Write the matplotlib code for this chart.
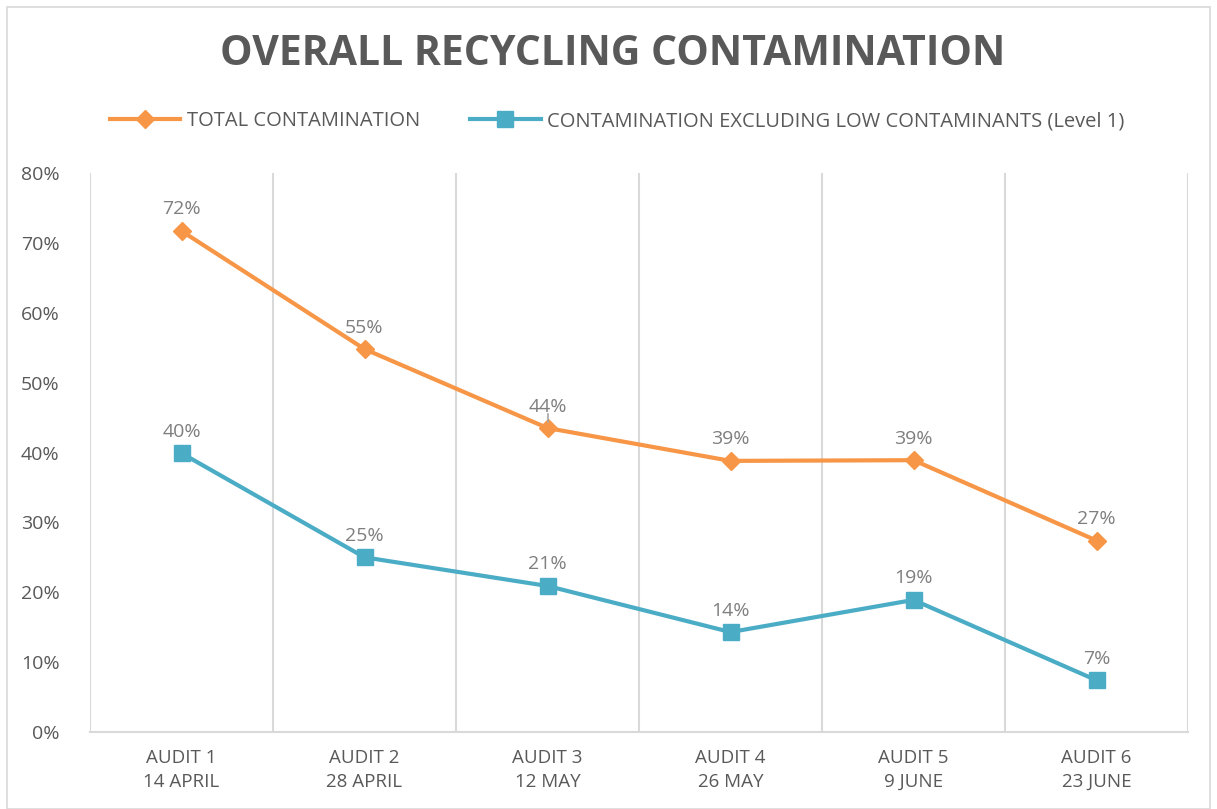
import matplotlib.pyplot as plt
from matplotlib.patches import Rectangle

plt.rcParams['font.family'] = ['Open Sans', 'DejaVu Sans']

# data
audits = ['AUDIT 1\n14 APRIL', 'AUDIT 2\n28 APRIL', 'AUDIT 3\n12 MAY',
          'AUDIT 4\n26 MAY', 'AUDIT 5\n9 JUNE', 'AUDIT 6\n23 JUNE']
total = [71.7, 54.8, 43.5, 38.8, 38.9, 27.4]
excl_low = [39.9, 25.0, 20.9, 14.3, 18.9, 7.4]
total_labels = ['72%', '55%', '44%', '39%', '39%', '27%']
excl_labels = ['40%', '25%', '21%', '14%', '19%', '7%']

orange = '#F79646'
blue = '#4BACC6'
grey_txt = '#595959'
lbl_txt = '#7F7F7F'
grid_c = '#D9D9D9'

fig = plt.figure(figsize=(12.17, 8.09), dpi=100)
ax = fig.add_axes([90 / 1217, 77 / 809, 1098 / 1217, 559 / 809])

x = list(range(len(audits)))
ax.plot(x, total, color=orange, lw=3, marker='D', ms=9,
        label='TOTAL CONTAMINATION', zorder=3)
ax.plot(x, excl_low, color=blue, lw=3, marker='s', ms=11,
        label='CONTAMINATION EXCLUDING LOW CONTAMINANTS (Level 1)', zorder=3)

for i in x:
    ax.annotate(total_labels[i], (i, total[i]), xytext=(0, 9),
                textcoords='offset points', ha='center', va='bottom',
                fontsize=14, color=lbl_txt)
    ax.annotate(excl_labels[i], (i, excl_low[i]), xytext=(0, 9),
                textcoords='offset points', ha='center', va='bottom',
                fontsize=14, color=lbl_txt)
# small leader line on audit 3
ax.plot([2, 2], [total[2] + 0.8, total[2] + 2.0], color='#A6A6A6', lw=1.2, zorder=4)

ax.set_xlim(-0.5, 5.5)
ax.set_ylim(0, 80)
ax.set_yticks(range(0, 81, 10))
ax.set_yticklabels([f'{v}%' for v in range(0, 81, 10)], fontsize=14, color=grey_txt)
ax.set_xticks(x)
ax.set_xticklabels(audits, fontsize=13.5, color=grey_txt, linespacing=1.45)
ax.tick_params(axis='x', length=0, pad=12)
ax.tick_params(axis='y', length=0, pad=22)

for b in [i - 0.5 for i in range(len(audits) + 1)]:
    ax.axvline(b, color=grid_c, lw=1.5, zorder=1)

for s in ['top', 'right', 'left']:
    ax.spines[s].set_visible(False)
ax.spines['bottom'].set_color(grid_c)
ax.spines['bottom'].set_linewidth(1.5)

fig.text(0.503, 0.933, 'OVERALL RECYCLING CONTAMINATION', ha='center', va='center',
         fontsize=29.5, fontweight='bold', color=grey_txt)

fig.legend(loc='center', bbox_to_anchor=(0.507, 0.85), ncol=2, frameon=False,
           fontsize=14.5, labelcolor=grey_txt, handlelength=3.5, columnspacing=2.5,
           handletextpad=0.3)

# outer border
fig.patches.append(Rectangle((7 / 1217, 0), 1203 / 1217, 802 / 809, transform=fig.transFigure,
                             fill=False, edgecolor='#D9D9D9', lw=1.2))

fig.savefig('out.png', dpi=100)
